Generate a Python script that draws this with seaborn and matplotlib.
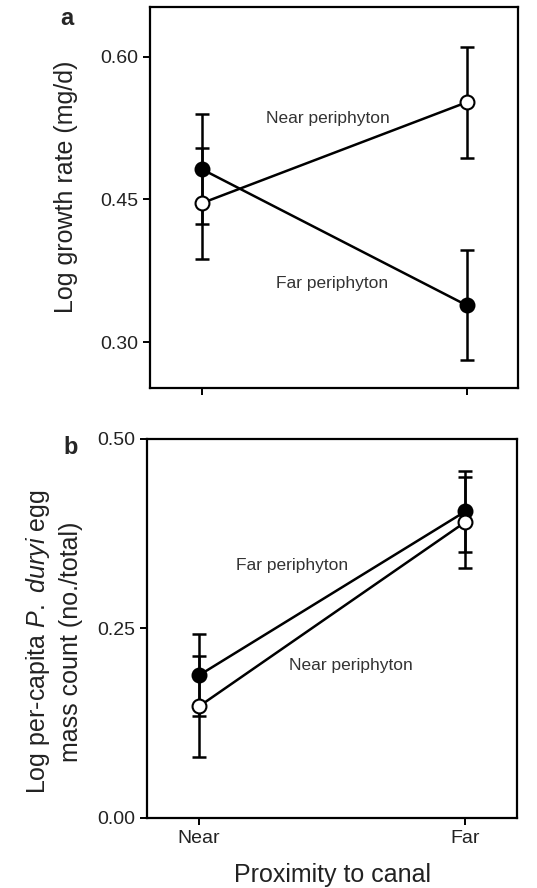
import matplotlib
matplotlib.use('Agg')
import matplotlib.pyplot as plt
import numpy as np
import pandas as pd
import seaborn as sns

sns.set_style('ticks')
plt.rcParams['font.family'] = ['Liberation Sans', 'DejaVu Sans']
plt.rcParams['mathtext.fontset'] = 'custom'
plt.rcParams['mathtext.rm'] = 'Liberation Sans'
plt.rcParams['mathtext.it'] = 'Liberation Sans:italic'

# 数据
proximity = ['Near', 'Far']
growth_near_peri = [0.446, 0.552]
growth_near_err = [0.058, 0.058]
growth_far_peri = [0.482, 0.339]
growth_far_err = [0.058, 0.058]

egg_far_peri = [0.188, 0.404]
egg_far_err = [0.054, 0.054]
egg_near_peri = [0.147, 0.390]
egg_near_err = [0.067, 0.060]


def draw_series(ax, vals, errs, filled):
    df = pd.DataFrame({'pos': np.arange(len(proximity)), 'val': vals})
    ax.errorbar(df.pos, df.val, yerr=errs, fmt='none', ecolor='black',
                elinewidth=1.8, capsize=5, capthick=1.8, zorder=2)
    sns.lineplot(data=df, x='pos', y='val', ax=ax, color='black', lw=1.8,
                 marker='o', markersize=10, markeredgecolor='black',
                 markeredgewidth=1.5,
                 markerfacecolor='black' if filled else 'white', zorder=3)


def style_ax(ax):
    for s in ax.spines.values():
        s.set_visible(True)
        s.set_linewidth(1.6)
        s.set_color('black')
    ax.tick_params(axis='both', direction='out', length=5, width=1.4,
                   labelsize=14, colors='black', labelcolor='#222222')
    ax.set_xlim(-0.195, 1.195)
    ax.set_xticks(np.arange(len(proximity)))


fig = plt.figure(figsize=(5.37, 8.88), dpi=100)
ax1 = fig.add_axes([0.279, 0.563, 0.686, 0.429])
ax2 = fig.add_axes([0.274, 0.079, 0.689, 0.427])

# a: 生长率
draw_series(ax1, growth_far_peri, growth_far_err, True)
draw_series(ax1, growth_near_peri, growth_near_err, False)
style_ax(ax1)
ax1.set_ylim(0.252, 0.652)
ax1.set_yticks([0.30, 0.45, 0.60])
ax1.set_yticklabels(['0.30', '0.45', '0.60'])
ax1.set_xticklabels([])
ax1.set_xlabel('')
ax1.set_ylabel('Log growth rate (mg/d)', fontsize=18, color='#222222')
ax1.yaxis.set_label_coords(-0.196, 0.528)
ax1.text(0.475, 0.5355, 'Near periphyton', ha='center', va='center',
         fontsize=12.5, color='#333333')
ax1.text(0.494, 0.362, 'Far periphyton', ha='center', va='center',
         fontsize=12.5, color='#333333')

# b: 卵块数
draw_series(ax2, egg_far_peri, egg_far_err, True)
draw_series(ax2, egg_near_peri, egg_near_err, False)
style_ax(ax2)
ax2.set_ylim(0, 0.5)
ax2.set_yticks([0, 0.25, 0.5])
ax2.set_yticklabels(['0.00', '0.25', '0.50'])
ax2.set_xticklabels(proximity)
ax2.set_xlabel('Proximity to canal', fontsize=18, color='#222222', labelpad=12)
ax2.set_ylabel('Log per-capita $\\mathit{P.}$ $\\mathit{duryi}$ egg\nmass count (no./total)',
               fontsize=18, color='#222222', linespacing=1.4)
ax2.yaxis.set_label_coords(-0.172, 0.464)
ax2.text(0.35, 0.333, 'Far periphyton', ha='center', va='center',
         fontsize=12.5, color='#333333')
ax2.text(0.571, 0.201, 'Near periphyton', ha='center', va='center',
         fontsize=12.5, color='#333333')

fig.text(0.125, 0.979, 'a', fontsize=17, fontweight='bold', ha='center', va='center')
fig.text(0.132, 0.4955, 'b', fontsize=17, fontweight='bold', ha='center', va='center')

fig.savefig('out.png', dpi=100)
